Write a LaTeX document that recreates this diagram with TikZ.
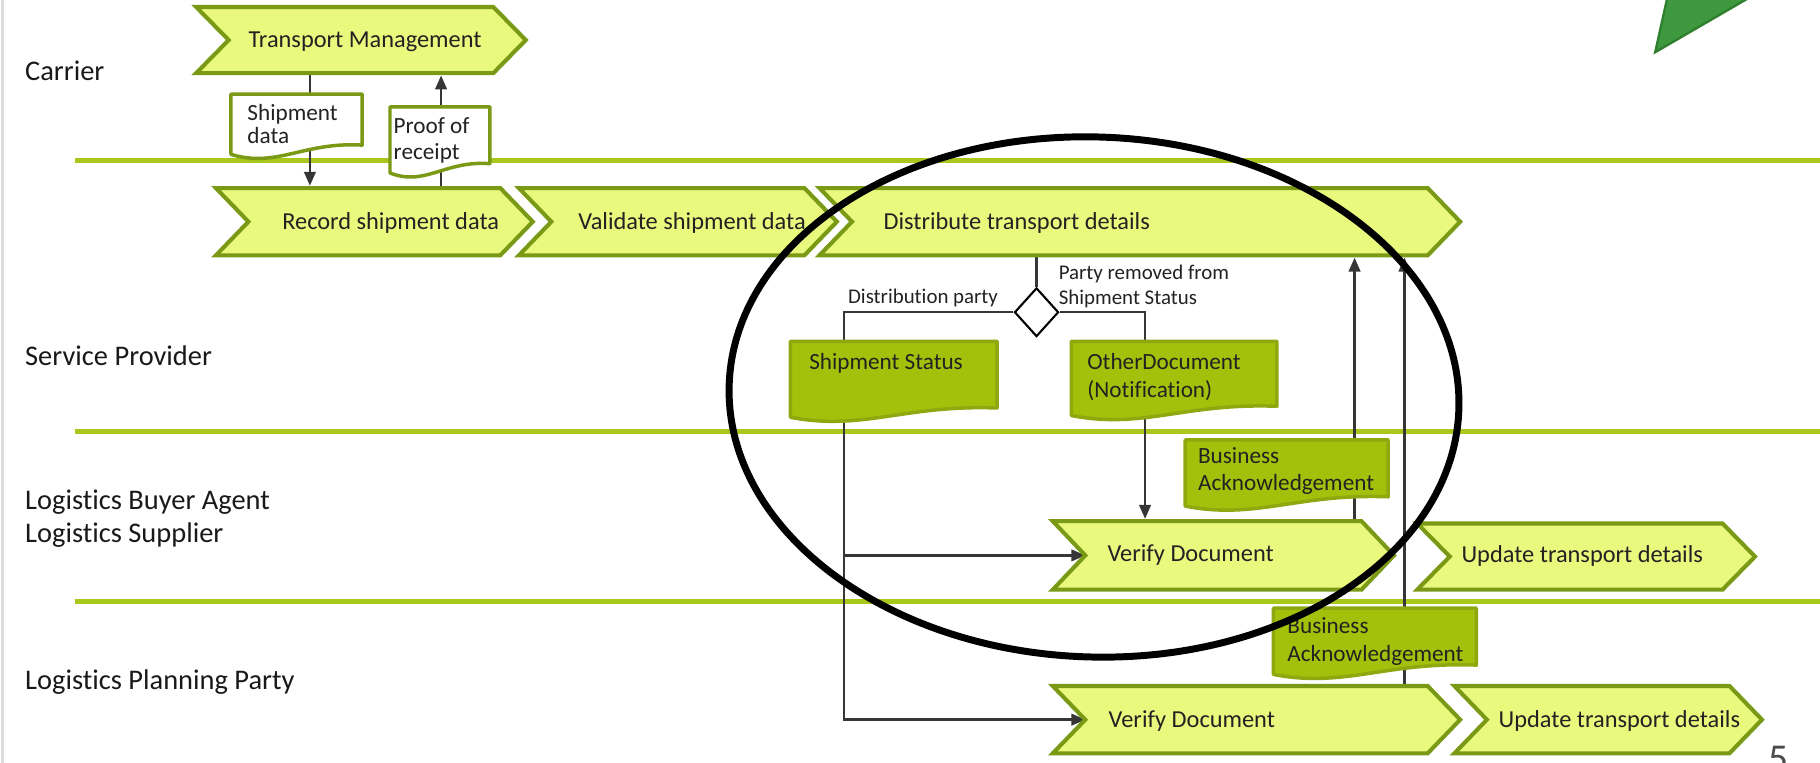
\documentclass[tikz,border=0pt]{standalone}
\usepackage{fontspec}
\setmainfont{Carlito}[Ligatures=NoCommon]
\usetikzlibrary{shapes.geometric,arrows.meta}
\pgfdeclarelayer{background}
\pgfsetlayers{background,main}
\definecolor{lane}{HTML}{A8C81E}
\definecolor{chevfill}{HTML}{E8F97E}
\definecolor{chevline}{HTML}{7A9914}
\definecolor{docfill}{HTML}{A3C10A}
\definecolor{docline}{HTML}{8EA80F}
\definecolor{connc}{HTML}{363636}
\definecolor{txt}{HTML}{222222}
\definecolor{tri}{HTML}{3E983E}
\definecolor{triline}{HTML}{2F7F2F}
\tikzset{
 chevst/.style={fill=chevfill, draw=chevline, line width=3.5pt, line join=miter},
 docst/.style={fill=docfill, draw=docline, line width=3pt, line join=round},
 wdocst/.style={fill=white, draw=chevline, line width=3pt, line join=round},
 box/.style={inner sep=0pt, outer sep=0pt, rectangle},
 chevtext/.style={inner sep=0pt, text=txt, font=\fontsize{21}{25}\selectfont},
 doctext/.style={inner sep=0pt, text=txt, font=\fontsize{20}{24}\selectfont},
 lanetext/.style={inner sep=0pt, text=black!90, font=\fontsize{24.5}{29}\selectfont},
 smalltext/.style={inner sep=0pt, text=txt, font=\fontsize{18}{22}\selectfont},
 laneline/.style={draw=lane, line width=4pt},
 connline/.style={draw=connc, line width=2pt},
 arr/.style={connline, -{Triangle[length=12pt,width=10pt]}, shorten >=2pt},
}
% name, x1, x2, ytop, ybot, text left, text baseline, text
\newcommand\chev[8]{%
 \filldraw[chevst] (#2,#4) -- ({#3-28},#4) -- (#3,{(#4+#5)/2}) -- ({#3-28},#5) -- (#2,#5) -- ({#2+28},{(#4+#5)/2}) -- cycle;
 \node[box, minimum width={(#3-#2)*1pt}, minimum height={(#5-#4)*1pt}, anchor=north west] (#1) at (#2,#4) {};
 \coordinate (#1-in) at ({#2+28},{(#4+#5)/2});
 \node[chevtext, anchor=base west] (#1-t) at (#6,#7) {#8};
}
% name, x1, ytop, x2, ybottom-right, style
\newcommand\docshape[6]{%
 \filldraw[#6] (#2,#3) -- (#4,#3) -- (#4,#5) .. controls ({#2+0.55*(#4-#2)},{#5-3}) and ({#2+0.35*(#4-#2)},{#5+20}) .. (#2,{#5+8}) -- cycle;
 \node[box, minimum width={(#4-#2)*1pt}, minimum height={(#5-#3)*1pt}, anchor=north west] (#1) at (#2,#3) {};
}
\begin{document}
\begin{tikzpicture}[x=1pt,y=-1pt]
\useasboundingbox (0,0) rectangle (1568,657);
% lane labels
\node[lanetext, anchor=base west] (l1) at (21.5,69) {Carrier};
\node[lanetext, anchor=base west] (l2) at (21.5,315) {Service Provider};
\node[lanetext, anchor=base west] (l3a) at (21.5,439) {Logistics Buyer Agent};
\node[lanetext, anchor=base west] (l3b) at (21.5,467) {Logistics Supplier};
\node[lanetext, anchor=base west] (l4) at (21.5,594) {Logistics Planning Party};
% process chevrons
\chev{tm}{169}{453}{6}{63}{214}{41}{Transport Management}
\chev{rec}{186}{459}{162}{220}{243}{198}{Record shipment data}
\chev{val}{447}{721}{162}{220}{498}{198}{Validate shipment data}
\chev{dist}{706}{1258}{162}{220}{761}{198}{Distribute transport details}
\chev{ver1}{907}{1201}{449}{508}{954}{484}{Verify Document}
\chev{upd1}{1221}{1512}{451}{508}{1259}{485}{Update transport details}
\chev{ver2}{907}{1258}{591}{649}{955}{627}{Verify Document}
\chev{upd2}{1253}{1518}{591}{649}{1291}{627}{Update transport details}
% documents
\docshape{sd}{199}{81}{312}{125}{wdocst}
\node[doctext, anchor=base west] (sd-t1) at (213,104) {Shipment};
\node[doctext, anchor=base west] (sd-t2) at (213,124) {data};
\docshape{pr}{336}{92}{422}{141}{wdocst}
\node[doctext, anchor=base west] (pr-t1) at (339,115.4) {Proof of};
\node[doctext, anchor=base west] (pr-t2) at (339,137.4) {receipt};
\docshape{ss}{681}{294}{859}{351.5}{docst}
\node[doctext, anchor=base west] (ss-t1) at (697,318) {Shipment Status};
\docshape{od}{923}{294}{1100}{350}{docst}
\node[doctext, anchor=base west] (od-t1) at (936.6,318) {OtherDocument};
\node[doctext, anchor=base west] (od-t2) at (936.6,342.4) {(Notification)};
\docshape{ba1}{1021}{379}{1196}{428}{docst}
\node[doctext, anchor=base west] (ba1-t1) at (1032,399.4) {Business};
\node[doctext, anchor=base west] (ba1-t2) at (1032,422.4) {Acknowledgement};
\docshape{ba2}{1097}{524}{1272}{573}{docst}
\node[doctext, anchor=base west] (ba2-t1) at (1109,545.8) {Business};
\node[doctext, anchor=base west] (ba2-t2) at (1109,570) {Acknowledgement};
% decision
\node[diamond, draw=black, line width=1.8pt, fill=white, minimum width=38pt, minimum height=42pt, aspect=0.905, inner sep=0pt] (dia) at (893,269) {};
\node[smalltext, anchor=base east] (lab1) at (860,261.5) {Distribution party};
\node[smalltext, anchor=base west] (lab2) at (912,240.4) {Party removed from};
\node[smalltext, anchor=base west] (lab3) at (912,262.4) {Shipment Status};
% x positions of connectors
\coordinate (xa) at (267,0);
\coordinate (xb) at (380,0);
\coordinate (xc) at (727,0);
\coordinate (xd) at (986.5,0);
\coordinate (xe) at (1167,0);
\coordinate (xf) at (1210,0);
\begin{pgfonlayer}{background}
 \draw[line width=2.5pt, draw=black!14] (2,0) -- (2,657);
 \draw[laneline] (65,138) -- (1568,138);
 \draw[laneline] (65,372) -- (1568,372);
 \draw[laneline] (65,518) -- (1568,518);
 \draw[arr] (tm.south -| xa) -- (rec.north -| xa);
 \draw[arr] (rec.north -| xb) -- (tm.south -| xb);
 \draw[connline] (dist.south -| dia) -- (dia.north);
 \draw[connline] (dia.west) -| (ss.north -| xc);
 \draw[connline] (dia.east) -| (od.north -| xd);
 \draw[arr, shorten >=0pt] (ss.south -| xc) |- (ver1-in);
 \draw[arr, shorten >=0pt] (ss.south -| xc) |- (ver2-in);
 \draw[arr] (od.south -| xd) -- (ver1.north -| xd);
 \draw[arr] (ver1.north -| xe) -- (dist.south -| xe);
 \draw[arr] (ver2.north -| xf) -- (dist.south -| xf);
\end{pgfonlayer}
% highlight ellipse
\draw[line width=6pt, black, rotate around={-2:(942.5,343)}] (942.5,342) ellipse [x radius=314.5, y radius=224];
% green pointer at top right
\filldraw[fill=tri, draw=triline, line width=2pt, line join=miter] (1426,45) -- (1440.4,-20) -- (1538,-20) -- cycle;
% page number
\node[anchor=base west, inner sep=0pt, text=black!70, font=\fontsize{34}{40}\selectfont] (pg) at (1523,665) {5};
\end{tikzpicture}
\end{document}
